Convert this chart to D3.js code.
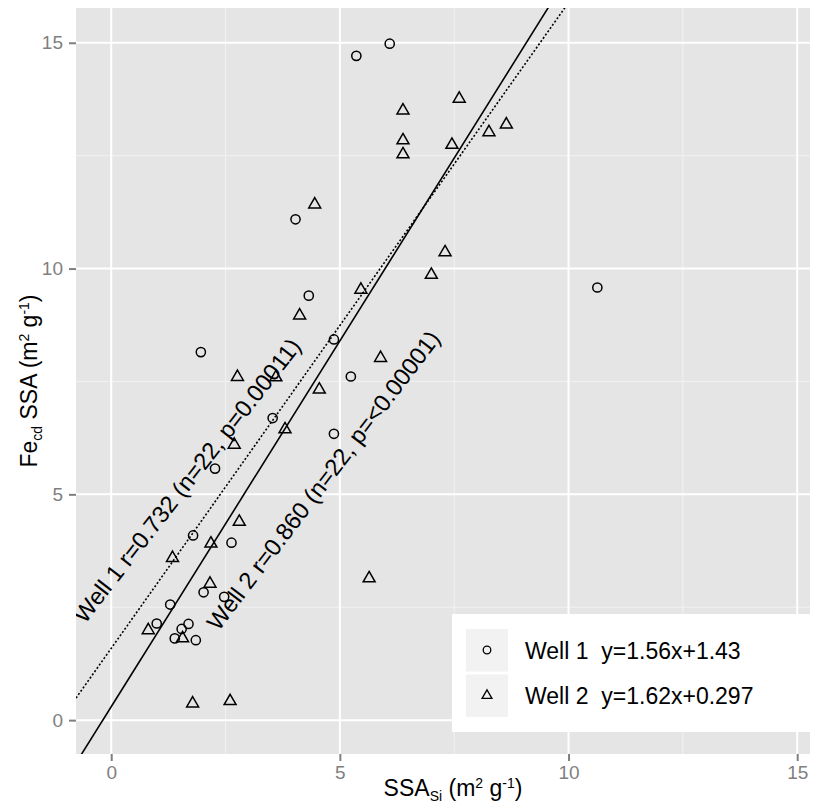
<!DOCTYPE html>
<html><head><meta charset="utf-8">
<script src="https://cdn.jsdelivr.net/npm/d3@7"></script>
<style>body{margin:0;background:#fff}svg{display:block;font-family:"Liberation Sans",Arial,sans-serif}</style>
</head><body><svg id="c" width="829" height="805"></svg>
<script>
// Well 1 (circles)
const well1X = [6.09,5.36,4.03,4.32,1.96,4.87,5.24,4.87,3.53,2.27,1.79,2.63,2.02,2.47,1.29,0.995,1.69,1.54,1.39,1.85,10.63];
const well1Y = [14.98,14.71,11.09,9.40,8.15,8.43,7.61,6.34,6.69,5.57,4.09,3.93,2.83,2.73,2.56,2.14,2.13,2.02,1.81,1.77,9.58];
// Well 2 (triangles)
const well2X = [7.61,6.38,6.38,6.38,7.45,8.64,8.26,4.45,7.30,7.00,5.46,4.12,5.89,2.76,3.60,4.55,3.80,2.69,2.80,2.18,1.34,2.16,0.81,1.56,1.78,2.60,5.64];
const well2Y = [13.76,13.50,12.84,12.53,12.74,13.19,13.02,11.42,10.36,9.86,9.53,8.96,8.02,7.60,7.59,7.32,6.44,6.10,4.39,3.91,3.59,3.02,1.99,1.81,0.37,0.42,3.14];
// fitted lines as drawn: [slope, intercept]
const well1Line = [1.43, 1.59];
const well2Line = [1.62, 0.297];
const seriesNames = ["Well 1  y=1.56x+1.43", "Well 2  y=1.62x+0.297"];
const annotations = ["Well 1 r=0.732 (n=22, p=0.00011)", "Well 2 r=0.860 (n=22, p=<0.00001)"];
const annotationAnchors = [[-0.573, 2.12], [2.346, 1.95]];
const xTicks = [0,5,10,15], yTicks = [0,5,10,15];
const minorTicks = [2.5,7.5,12.5];

const svg = d3.select("#c");
const L=76,R=810,T=8,B=754;
const x = d3.scaleLinear().domain([-0.77,15.28]).range([L,R]);
const y = d3.scaleLinear().domain([-0.75,15.77]).range([B,T]);

svg.append("rect").attr("x",L).attr("y",T).attr("width",R-L).attr("height",B-T).attr("fill","#E5E5E5");
const g = svg.append("g");
minorTicks.forEach(v=>{
  g.append("line").attr("x1",x(v)).attr("x2",x(v)).attr("y1",T).attr("y2",B).attr("stroke","#F2F2F2").attr("stroke-width",1);
  g.append("line").attr("y1",y(v)).attr("y2",y(v)).attr("x1",L).attr("x2",R).attr("stroke","#F2F2F2").attr("stroke-width",1);
});
xTicks.forEach(v=>g.append("line").attr("x1",x(v)).attr("x2",x(v)).attr("y1",T).attr("y2",B).attr("stroke","#fff").attr("stroke-width",2));
yTicks.forEach(v=>g.append("line").attr("y1",y(v)).attr("y2",y(v)).attr("x1",L).attr("x2",R).attr("stroke","#fff").attr("stroke-width",2));

// axes
const xAxis = d3.axisBottom(x).tickValues(xTicks).tickSize(7).tickPadding(5);
const ax = svg.append("g").attr("transform",`translate(0,${B})`).call(xAxis);
const yAxis = d3.axisLeft(y).tickValues(yTicks).tickSize(7).tickPadding(6);
const ay = svg.append("g").attr("transform",`translate(${L},0)`).call(yAxis);
[ax,ay].forEach(a=>{
  a.select(".domain").remove();
  a.selectAll(".tick line").attr("stroke","#7F7F7F").attr("stroke-width",2);
  a.selectAll(".tick text").attr("fill","#7F7F7F").attr("font-size",19).attr("font-family","Liberation Sans, Arial, sans-serif");
});

// clip
svg.append("clipPath").attr("id","clip").append("rect").attr("x",L).attr("y",T).attr("width",R-L).attr("height",B-T);
const pl = svg.append("g").attr("clip-path","url(#clip)");
const xd = x.domain();
function drawLine(p, dash){
  pl.append("line").attr("x1",x(xd[0])).attr("y1",y(p[0]*xd[0]+p[1]))
    .attr("x2",x(xd[1])).attr("y2",y(p[0]*xd[1]+p[1]))
    .attr("stroke","#000").attr("stroke-width",1.6).attr("stroke-dasharray",dash);
}
drawLine(well1Line,"2,2");
drawLine(well2Line,null);

// annotations
const angles = [-52,-52.8];
annotations.forEach((t,i)=>{
  const px=x(annotationAnchors[i][0]), py=y(annotationAnchors[i][1]);
  pl.append("text").attr("transform",`translate(${px},${py}) rotate(${angles[i]})`)
    .attr("font-size",23.7).attr("fill","#000").text(t);
});

const tri = d3.symbol().type(d3.symbolTriangle).size(62);
pl.selectAll(".c1").data(well1X.map((v,i)=>[v,well1Y[i]])).enter().append("circle")
  .attr("cx",d=>x(d[0])).attr("cy",d=>y(d[1])).attr("r",4.6).attr("fill","none").attr("stroke","#000").attr("stroke-width",1.5);
pl.selectAll(".t2").data(well2X.map((v,i)=>[v,well2Y[i]])).enter().append("path")
  .attr("d",tri).attr("transform",d=>`translate(${x(d[0])},${y(d[1])})`).attr("fill","none").attr("stroke","#000").attr("stroke-width",1.5);

// legend
const lg = svg.append("g");
lg.append("rect").attr("x",452).attr("y",614).attr("width",R-452).attr("height",118).attr("fill","#fff");
seriesNames.forEach((n,i)=>{
  const ky = 629 + i*45.5;
  lg.append("rect").attr("x",466).attr("y",ky).attr("width",42).attr("height",42.5).attr("fill","#F2F2F2");
  if(i===0) lg.append("circle").attr("cx",487).attr("cy",ky+21).attr("r",3.8).attr("fill","none").attr("stroke","#000").attr("stroke-width",1.3);
  else lg.append("path").attr("d",d3.symbol().type(d3.symbolTriangle).size(42)).attr("transform",`translate(487,${ky+21})`).attr("fill","none").attr("stroke","#000").attr("stroke-width",1.3);
  lg.append("text").attr("x",525).attr("y",ky+29.5).attr("font-size",23).attr("fill","#000").style("white-space","pre").text(n);
});

// axis titles
const xt = svg.append("text").attr("x",453).attr("y",796).attr("text-anchor","middle").attr("font-size",23);
xt.append("tspan").text("SSA");
xt.append("tspan").attr("font-size",14).attr("dy",5).text("Si");
xt.append("tspan").attr("dy",-5).text(" (m");
xt.append("tspan").attr("font-size",14).attr("dy",-8).text("2");
xt.append("tspan").attr("dy",8).text(" g");
xt.append("tspan").attr("font-size",14).attr("dy",-8).text("-1");
xt.append("tspan").attr("dy",8).text(")");

const yt = svg.append("text").attr("transform",`translate(37,381) rotate(-90)`).attr("text-anchor","middle").attr("font-size",23);
yt.append("tspan").text("Fe");
yt.append("tspan").attr("font-size",14).attr("dy",5).text("cd");
yt.append("tspan").attr("dy",-5).text(" SSA (m");
yt.append("tspan").attr("font-size",14).attr("dy",-8).text("2");
yt.append("tspan").attr("dy",8).text(" g");
yt.append("tspan").attr("font-size",14).attr("dy",-8).text("-1");
yt.append("tspan").attr("dy",8).text(")");
</script></body></html>
